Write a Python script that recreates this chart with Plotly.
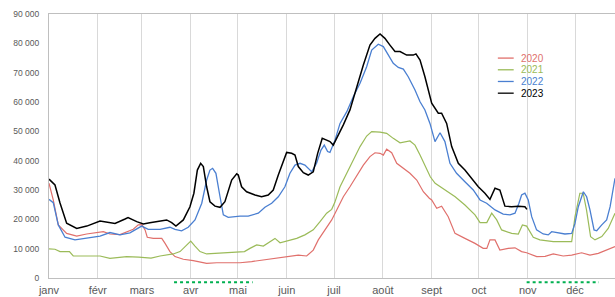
import plotly.graph_objects as go

# Day of year (0 = 1 Jan) and values (thousands)
days_2020 = [0, 2.7, 5.9, 11.2, 17.6, 23.9, 34.5, 38.7, 45.1, 49.3, 53.5, 56.7, 59, 61, 62.4, 66.2, 71.6,
             73.7, 76.8, 80, 85.3, 91.6, 100.1, 106.5, 121.3, 128.7, 139.2, 149.8, 158.3, 163.6, 167.8,
             171, 175.2, 179.5, 182.7, 186.9, 191.1, 195.4, 199.6, 203.8, 207, 210.2, 212.3, 214.4,
             217.6, 220.8, 225, 229.2, 233.5, 237.7, 241.5, 243, 246.2, 249.3, 253.5, 257.8, 264.1,
             270.5, 275.7, 278, 280, 283.2, 286.3, 291.6, 295.9, 300.1, 303.3, 309.7, 315, 320.2,
             326.5, 331.9, 338.2, 343.5, 348.8, 354.1, 359.4]
vals_2020 = [32.3, 26.6, 18.1, 15.2, 14.3, 15.0, 15.8, 15.0, 14.8, 15.8, 16.6, 18.1, 18.2, 16.4, 13.9, 13.5,
             13.5, 11.8, 9.0, 7.3, 6.4, 5.9, 5.0, 5.2, 5.2, 5.6, 6.4, 7.0, 7.8, 7.5, 9.5,
             13.0, 16.4, 19.8, 23.2, 27.7, 31.1, 35.1, 38.5, 41.4, 42.7, 42.5, 41.9, 43.9,
             42.7, 39.1, 37.4, 35.7, 33.4, 29.4, 27.2, 26.6, 23.8, 24.5, 20.9, 15.2, 13.5,
             11.8, 10.1, 10.1, 13.0, 13.0, 9.5, 10.1, 10.3, 9.0, 8.6, 7.3, 7.4, 8.2,
             7.5, 7.8, 8.6, 7.8, 8.4, 9.5, 10.7]

days_2021 = [0, 3.8, 7, 13, 15.4, 32.4, 38.7, 49.3, 57, 64.8, 70.5, 78.9, 83.2, 87.4, 90, 92.7, 95.9,
             100.1, 108.6, 121.3, 124.1, 127.6, 131.9, 136.1, 139.2, 143.5, 146.7, 152, 157.3, 162.5,
             167.8, 172.1, 176.3, 179.5, 181.5, 184.8, 189.1, 193.2, 197.5, 201.7, 204.9, 210.2,
             214.4, 218.6, 222.9, 229.2, 232.4, 235.6, 238.7, 242.1, 245.2, 251.6, 257.9, 264.1,
             270.5, 273.7, 278, 281.1, 284.3, 287.4, 293.8, 298, 300.6, 303.3, 307.5, 311.7, 320.2,
             331.9, 334, 337.1, 339.2, 341.3, 343.9, 346.7, 351, 355.1, 359.4]
vals_2021 = [9.9, 9.8, 9.0, 9.0, 7.5, 7.5, 6.7, 7.3, 7.1, 6.8, 7.5, 8.2, 9.0, 11.3, 12.6, 10.9, 9.0,
             8.2, 8.4, 8.9, 9.0, 10.1, 11.3, 10.9, 12.0, 13.5, 12.0, 12.7, 13.5, 14.7,
             16.4, 19.2, 22.1, 23.4, 25.8, 31.1, 35.7, 40.2, 44.8, 48.4, 49.9, 49.7,
             49.3, 47.6, 46.1, 46.7, 45.3, 41.9, 38.3, 34.5, 32.3, 30.0, 27.7, 24.9,
             21.5, 18.9, 18.9, 22.1, 19.8, 16.4, 15.2, 15.0, 18.1, 17.7, 13.9, 13.0, 12.4,
             12.4, 20.9, 28.9, 28.9, 23.2, 14.1, 13.0, 14.1, 16.9, 22.1]

days_2022 = [0, 2.7, 5.9, 10.2, 16.5, 23.9, 32.4, 38.7, 45.1, 51.4, 55.7, 58.8, 63, 70.5, 76.8, 80,
             84.2, 88.4, 92.7, 97, 100.1, 102.2, 103.9, 106, 108.6, 110.7, 113.8, 121.3, 126.5,
             132.9, 137.1, 141.4, 145.6, 149.8, 153, 156.2, 159.4, 162.5, 166.8, 169.9, 172.7,
             174.8, 176.9, 178.4, 181.6, 184.8, 189.1, 193.2, 197.5, 201.7, 204.9, 209.1, 212.3,
             215.4, 218.6, 221.8, 225, 228.1, 232.4, 235.6, 238.7, 241.9, 245.1, 248.3, 251.4,
             254.6, 258.8, 264.1, 269.4, 273.7, 277.9, 283.2, 288.4, 292.7, 295.9, 298.4, 300.1,
             302.2, 304.3, 306.5, 309.6, 313.8, 317, 319.2, 324.5, 327.6, 331.9, 334, 336.1,
             339.3, 341.4, 343.5, 346.1, 347.8, 351, 354.1, 356.3, 359.4]
vals_2022 = [26.8, 25.7, 18.1, 13.9, 13.0, 13.5, 14.3, 15.5, 14.7, 15.4, 16.9, 17.7, 16.6, 16.6, 17.3, 16.6,
             16.1, 17.3, 19.8, 25.5, 33.4, 36.8, 37.4, 35.7, 27.7, 21.5, 20.7, 21.1, 21.1,
             22.1, 24.1, 25.5, 27.7, 31.1, 35.7, 38.5, 39.1, 38.5, 36.2, 39.1, 43.6,
             45.3, 43.1, 42.8, 47.0, 52.7, 56.7, 61.8, 66.4, 72.0, 77.7, 79.7, 78.9,
             76.0, 73.2, 71.8, 71.2, 68.6, 64.1, 60.1, 57.3, 52.7, 46.5, 49.5, 46.5,
             39.1, 35.7, 32.8, 30.0, 26.6, 25.5, 23.2, 21.8, 21.5, 22.1, 25.5, 28.3,
             28.9, 26.6, 20.9, 16.4, 15.0, 14.7, 15.8, 15.2, 15.0, 15.2, 18.6, 24.3,
             29.4, 27.7, 23.2, 16.4, 16.1, 18.1, 19.8, 24.3, 34.0]

days_2023 = [0, 3.8, 7, 11.2, 17.6, 24, 32.4, 41.9, 48.3, 50.2, 55.7, 59.9, 64, 70.5, 74.7, 77.9, 80.6,
             85.3, 89.5, 92, 94.2, 96.3, 98, 100.1, 102.2, 105.4, 108.6, 111.7, 113.8, 116, 119.2,
             120.2, 122.3, 125.5, 130.8, 135, 139.2, 142.4, 145.6, 148.8, 150.9, 154.1, 156.2,
             158.3, 161.5, 164.6, 167.8, 170.6, 173.5, 176.3, 178.4, 180.5, 182.7, 186.9, 191.1,
             195.4, 199.6, 203.8, 207, 210.2, 213.3, 216.5, 219.7, 222.9, 227.1, 231.3, 233,
             235.6, 238.7, 243, 247.2, 249.3, 252.5, 255.7, 259.9, 264.1, 268.4, 272.6, 276.8,
             280, 283.2, 286.3, 289.5, 293.8, 298, 302.2, 303.5]
vals_2023 = [33.7, 31.7, 25.6, 18.7, 16.9, 17.7, 19.4, 18.6, 20.1, 20.6, 19.2, 18.4, 18.8, 19.4, 19.8, 18.9, 17.7,
             19.8, 24.3, 28.9, 36.8, 39.1, 38.0, 31.1, 26.0, 24.5, 24.1, 26.0, 30.0, 33.4, 35.5,
             35.1, 31.1, 29.4, 28.3, 27.7, 28.3, 30.0, 35.1, 40.2, 42.8, 42.5, 41.9,
             38.0, 35.9, 35.1, 36.2, 42.5, 47.6, 47.0, 46.5, 45.3, 47.6, 52.2, 57.3,
             65.2, 72.6, 79.4, 81.7, 83.2, 81.7, 79.4, 77.2, 77.2, 76.0, 76.0, 76.4,
             74.3, 68.6, 59.6, 56.2, 56.2, 52.7, 44.8, 39.1, 36.8, 34.0, 31.1, 28.9,
             26.8, 30.6, 30.0, 24.5, 24.3, 24.5, 24.3, 23.4]

series_names = ["2020", "2021", "2022", "2023"]
series_days = [days_2020, days_2021, days_2022, days_2023]
series_vals = [vals_2020, vals_2021, vals_2022, vals_2023]
series_colors = ["#e0706c", "#9bbb59", "#4a7fd1", "#000000"]
series_widths = [1.2, 1.2, 1.3, 1.5]

month_starts = [0, 31, 59, 90, 120, 151, 181, 212, 243, 273, 304, 334]
month_labels = ["janv", "févr", "mars", "avr", "mai", "juin", "juil", "août", "sept", "oct", "nov", "déc"]

y_ticks = [0, 10000, 20000, 30000, 40000, 50000, 60000, 70000, 80000, 90000]

# marked periods under the axis (day of year)
periods = [(79.4, 129.3), (303.3, 349.2)]

fig = go.Figure()
for name, d, v, c, w in zip(series_names, series_days, series_vals, series_colors, series_widths):
    fig.add_trace(go.Scatter(x=d, y=[val * 1000 for val in v], mode="lines", name=name,
                             line=dict(color=c, width=w), showlegend=False))

font_family = "Liberation Sans, Arial, sans-serif"

fig.update_layout(
    width=615, height=297,
    margin=dict(l=49, r=0, t=14, b=19),
    paper_bgcolor="white", plot_bgcolor="white",
    separators=", ",
    font=dict(family=font_family, color="#595959"),
    xaxis=dict(range=[0, 359.4], tickvals=month_starts, ticktext=month_labels,
               showgrid=True, gridcolor="#d9d9d9", gridwidth=1,
               showline=True, linecolor="#bfbfbf", linewidth=1, mirror=True,
               ticks="", tickfont=dict(size=11, color="#595959"), zeroline=False,
               ticklabelstandoff=2),
    yaxis=dict(range=[0, 90000], tickvals=y_ticks, tickformat=",d",
               showgrid=False, showline=True, linecolor="#bfbfbf", linewidth=1,
               ticks="", tickfont=dict(size=8.5, color="#595959"), zeroline=False,
               ticklabelstandoff=7),
)

# custom compact legend
leg_y0 = 0.833
leg_dy = 0.0443
for i, (name, c) in enumerate(zip(series_names, series_colors)):
    yy = leg_y0 - i * leg_dy
    fig.add_shape(type="line", xref="paper", yref="paper", x0=0.793, x1=0.821, y0=yy, y1=yy,
                  line=dict(color=c, width=1.3))
    fig.add_annotation(xref="paper", yref="paper", x=0.831, y=yy, text=name, showarrow=False,
                       xanchor="left", yanchor="middle", font=dict(size=10, color=c, family=font_family))

for a, b in periods:
    fig.add_shape(type="line", xref="x", yref="paper", x0=a, x1=b, y0=-0.016, y1=-0.016,
                  line=dict(color="#00b050", width=2, dash="dot"))

fig.write_html("out.html", config={"displayModeBar": False})

# remove the default page margin so the figure sits at the window's top-left corner
with open("out.html", "r", encoding="utf-8") as f:
    html = f.read()
html = html.replace("<head>", "<head><style>html,body{margin:0;padding:0;overflow:hidden;}</style>", 1)
with open("out.html", "w", encoding="utf-8") as f:
    f.write(html)
